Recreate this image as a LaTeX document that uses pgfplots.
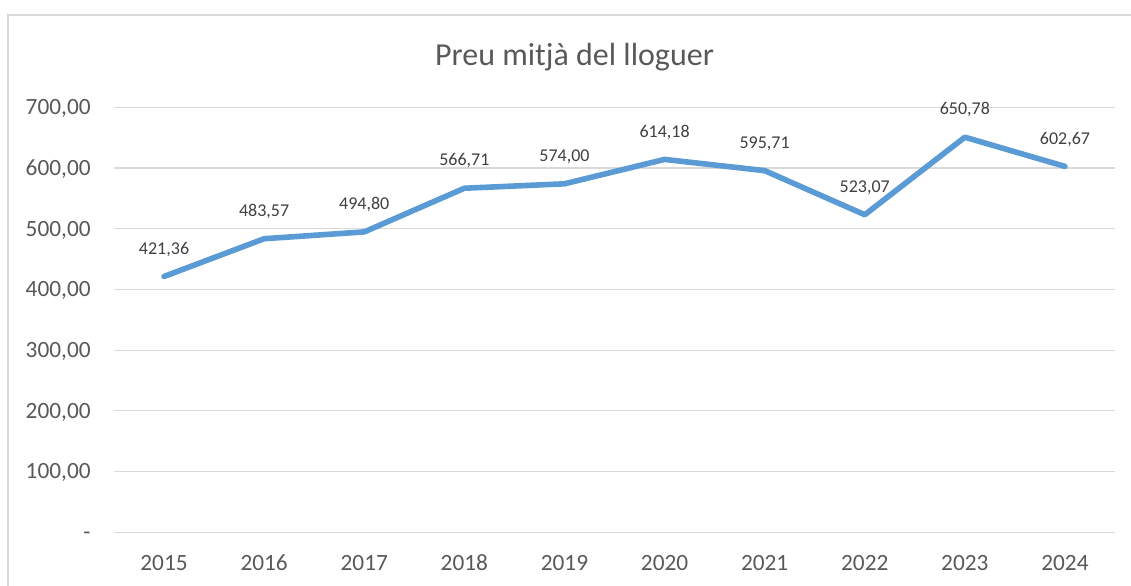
\documentclass[border=0pt]{standalone}
\usepackage{pgfplots}
\pgfplotsset{compat=1.18}
\usepackage{fontspec}
\setmainfont{Carlito}
\definecolor{linblue}{HTML}{5B9BD5}
\definecolor{gridgray}{HTML}{D9D9D9}
\definecolor{txtgray}{HTML}{595959}
\definecolor{lblgray}{HTML}{404040}
\begin{document}
\begin{tikzpicture}
\useasboundingbox (0pt,0pt) rectangle (565.5pt,292.5pt);
\draw[gridgray, line width=0.6pt] (4pt,-10pt) -- (4pt,285pt) -- (580pt,285pt);
\node[anchor=base, font=\fontsize{16}{19}\selectfont, text=txtgray] at (287.25pt,259.5pt) {Preu mitjà del lloguer};
\begin{axis}[
  at={(57pt,26.35pt)}, anchor=south west,
  scale only axis, width=500.5pt, height=212.5pt,
  xmin=-0.5, xmax=9.5, ymin=0, ymax=700,
  axis line style={draw=none},
  ytick={0,100,200,300,400,500,600,700},
  yticklabels={-,{100,00},{200,00},{300,00},{400,00},{500,00},{600,00},{700,00}},
  xtick={0,1,2,3,4,5,6,7,8,9},
  xticklabels={2015,2016,2017,2018,2019,2020,2021,2022,2023,2024},
  major tick length=0pt,
  ymajorgrids, grid style={gridgray, line width=0.6pt},
  yticklabel style={font=\fontsize{11.65}{14}\selectfont, text=txtgray, anchor=base east, inner sep=0pt, xshift=-11.5pt, yshift=-3.7pt},
  xticklabel style={font=\fontsize{11.65}{14}\selectfont, text=txtgray, anchor=base, inner sep=0pt, yshift=-19.05pt},
  /pgf/number format/.cd, use comma, fixed, fixed zerofill, precision=2, assume math mode=true,
  /pgfplots/.cd,
  nodes near coords,
  every node near coord/.append style={font=\fontsize{9}{11}\selectfont, text=lblgray, anchor=base, inner sep=0pt, yshift=11.2pt},
  clip=false,
]
\addplot[linblue, line width=2.8pt, line join=round, line cap=round, mark=none] coordinates {
(0,421.36) (1,483.57) (2,494.80) (3,566.71) (4,574.00) (5,614.18) (6,595.71) (7,523.07) (8,650.78) (9,602.67)
};
\end{axis}
\end{tikzpicture}
\end{document}
